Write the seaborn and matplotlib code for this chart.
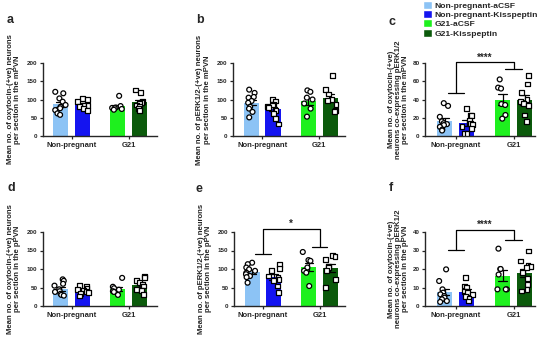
import numpy as np
import pandas as pd
import matplotlib
matplotlib.use("Agg")
import matplotlib.pyplot as plt
from matplotlib.patches import Patch
import seaborn as sns

np.random.seed(7)

groups = ["Non-pregnant", "G21"]
treatments = ["aCSF", "Kisspeptin"]
legend_labels = ["Non-pregnant-aCSF", "Non-pregnant-Kisspeptin", "G21-aCSF", "G21-Kisspeptin"]
colors = {("Non-pregnant", "aCSF"): "#8CC3F5", ("Non-pregnant", "Kisspeptin"): "#1414F0",
          ("G21", "aCSF"): "#1EF01E", ("G21", "Kisspeptin"): "#0B5A0B"}

# a: oxytocin+ neurons, mPVN
a_np_acsf = [121, 117, 103, 94, 85, 80, 76, 71, 62, 58]
a_np_kiss = [103, 99, 94, 85, 83, 80, 76, 71]
a_g21_acsf = [110, 82, 78, 77, 76, 74, 72]
a_g21_kiss = [126, 120, 94, 91, 89, 85, 80, 76, 71]
# b: pERK1/2+ neurons, mPVN
b_np_acsf = [127, 118, 107, 105, 96, 91, 80, 75, 66, 51]
b_np_kiss = [100, 96, 87, 85, 80, 78, 71, 62, 48, 33]
b_g21_acsf = [125, 121, 105, 100, 89, 75, 53]
b_g21_kiss = [166, 127, 115, 101, 98, 87, 69, 66]
# c: oxytocin+ co-expressing pERK1/2, mPVN
c_np_acsf = [36, 33, 21, 16, 14, 13, 12, 10, 7, 6]
c_np_kiss = [30, 23, 22, 17, 14, 13, 10, 8, 3, 3]
c_g21_acsf = [62, 53, 52, 35, 34, 23, 19]
c_g21_kiss = [66, 57, 48, 40, 38, 36, 33, 23, 16]
# d: oxytocin+ neurons, pPVN
d_np_acsf = [72, 68, 60, 55, 45, 40, 38, 33, 30, 28]
d_np_kiss = [56, 52, 48, 45, 42, 40, 37, 33, 27]
d_g21_acsf = [76, 52, 48, 44, 40, 38, 30]
d_g21_kiss = [81, 77, 68, 63, 59, 54, 45, 41, 32]
# e: pERK1/2+ neurons, pPVN
e_np_acsf = [117, 113, 104, 99, 95, 90, 86, 81, 78, 63]
e_np_kiss = [113, 101, 95, 81, 77, 72, 68, 54, 36]
e_g21_acsf = [146, 124, 122, 104, 95, 90, 54]
e_g21_kiss = [137, 133, 126, 108, 104, 95, 72, 50]
# f: oxytocin+ co-expressing pERK1/2, pPVN
f_np_acsf = [19.8, 13.5, 9, 7.2, 6.3, 5.4, 4.5, 3.6, 2.7, 2.2]
f_np_kiss = [15.3, 10.8, 10.3, 8.1, 7.2, 6.3, 5, 4, 2.7]
f_g21_acsf = [31, 20, 20, 17, 9, 9, 9]
f_g21_kiss = [29.7, 24.3, 22, 21.3, 20.7, 18, 14.8, 11.7, 9, 8.1]

panels = [
    ("a", [a_np_acsf, a_np_kiss, a_g21_acsf, a_g21_kiss], [0, 50, 100, 150, 200],
     "Mean no. of oxytocin-(+ve) neurons\nper section in the mPVN", None),
    ("b", [b_np_acsf, b_np_kiss, b_g21_acsf, b_g21_kiss], [0, 50, 100, 150, 200],
     "Mean no. of pERK1/2-(+ve) neurons\nper section in the mPVN", None),
    ("c", [c_np_acsf, c_np_kiss, c_g21_acsf, c_g21_kiss], [0, 20, 40, 60, 80],
     "Mean no. of oxytocin-(+ve)\nneurons co-expressing pERK1/2\nper section in the mPVN",
     (47.4, 80.7, 73, "****")),
    ("d", [d_np_acsf, d_np_kiss, d_g21_acsf, d_g21_kiss], [0, 50, 100, 150, 200],
     "Mean no. of oxytocin-(+ve) neurons\nper section in the pPVN", None),
    ("e", [e_np_acsf, e_np_kiss, e_g21_acsf, e_g21_kiss], [0, 50, 100, 150, 200],
     "Mean no. of pERK1/2-(+ve) neurons\nper section in the pPVN", (141, 209, 160, "*")),
    ("f", [f_np_acsf, f_np_kiss, f_g21_acsf, f_g21_kiss], [0, 10, 20, 30, 40],
     "Mean no. of oxytocin-(+ve)\nneurons co-expressing pERK1/2\nper section in the pPVN",
     (30.1, 41.1, 35.7, "****")),
]

sns.set_style("ticks")
plt.rcParams["font.family"] = ["Liberation Sans", "DejaVu Sans"]
plt.rcParams["font.weight"] = "bold"

W, H = 550, 342
fig = plt.figure(figsize=(5.5, 3.42), dpi=100)

# pixel boxes: left, right, top (y max), bottom (y=0)
boxes = [(43, 157, 63, 136), (233, 345, 63, 136), (425, 535, 63, 136),
         (43, 157, 232, 306), (234, 345, 232, 306), (425, 535, 232, 306)]
xlims = [(-0.5, 1.5), (-0.51, 1.45), (-0.53, 1.37)] * 2
label_x = [-0.19, -0.2, -0.145] * 2
letter_pos = [(10, 20), (200, 20), (392, 22), (11, 188), (199, 189), (391, 188)]

for i, (letter, series, yticks, ylabel, sig) in enumerate(panels):
    l, r, t, b = boxes[i]
    ax = fig.add_axes([l / W, 1 - b / H, (r - l) / W, (b - t) / H])

    rows = []
    for (g, tr), vals in zip([(g, tr) for g in groups for tr in treatments], series):
        for v in vals:
            rows.append({"group": g, "treatment": tr, "value": v})
    df = pd.DataFrame(rows)

    sns.barplot(data=df, x="group", y="value", hue="treatment", order=groups,
                hue_order=treatments, errorbar="se", capsize=0.3, gap=0.3, width=0.76,
                saturation=1, err_kws={"color": "black", "linewidth": 0.9},
                legend=False, ax=ax)
    for ti, cont in enumerate(ax.containers):
        for gi, bar in enumerate(cont):
            bar.set_facecolor(colors[(groups[gi], treatments[ti])])
            bar.set_linewidth(0)

    for tr, mk in zip(treatments, ["o", "s"]):
        sns.stripplot(data=df[df["treatment"] == tr], x="group", y="value", hue="treatment",
                      order=groups, hue_order=treatments, dodge=True, jitter=0.2, marker=mk,
                      size=3.5, palette={"aCSF": "white", "Kisspeptin": "white"},
                      edgecolor="black", linewidth=0.9, legend=False, ax=ax, zorder=3)

    ax.set_xlim(*xlims[i])
    ax.set_ylim(0, yticks[-1])
    ax.set_yticks(yticks)
    ax.set_xlabel("")
    ax.set_ylabel(ylabel, fontsize=5.6, fontweight="bold", linespacing=1.05)
    ax.yaxis.set_label_coords(label_x[i], 0.5)
    ax.tick_params(axis="y", labelsize=4.5, length=2.5, width=0.9, pad=1.5)
    ax.tick_params(axis="x", labelsize=5.5, length=2.5, width=0.9, pad=2)
    for lab in ax.get_xticklabels() + ax.get_yticklabels():
        lab.set_fontweight("bold")
    for sp in ["left", "bottom"]:
        ax.spines[sp].set_linewidth(1.0)
    sns.despine(ax=ax)

    if sig is not None:
        y_np, y_top, y_g21, stars = sig
        kw = dict(color="black", linewidth=0.9, clip_on=False, zorder=4)
        ax.plot([-0.14, 0.14], [y_np, y_np], **kw)
        ax.plot([0, 0, 1, 1], [y_np, y_top, y_top, y_g21], **kw)
        ax.plot([0.86, 1.14], [y_g21, y_g21], **kw)
        ax.text(0.5, y_top, stars, ha="center", va="bottom", fontsize=7,
                fontweight="bold", clip_on=False)

    lx, ly = letter_pos[i]
    fig.text(lx / W, 1 - ly / H, letter, fontsize=9, fontweight="bold", ha="center", va="center")

handles = [Patch(facecolor=colors[(g, tr)], label=lab)
           for (g, tr), lab in zip([(g, tr) for g in groups for tr in treatments], legend_labels)]
fig.legend(handles=handles, loc="upper left", bbox_to_anchor=(423 / W, 1 - 1 / H),
           frameon=False, fontsize=6.1, handlelength=1.05, handleheight=1.05,
           handletextpad=0.3, labelspacing=0.05, borderpad=0, borderaxespad=0)

fig.savefig("out.png", dpi=100)
